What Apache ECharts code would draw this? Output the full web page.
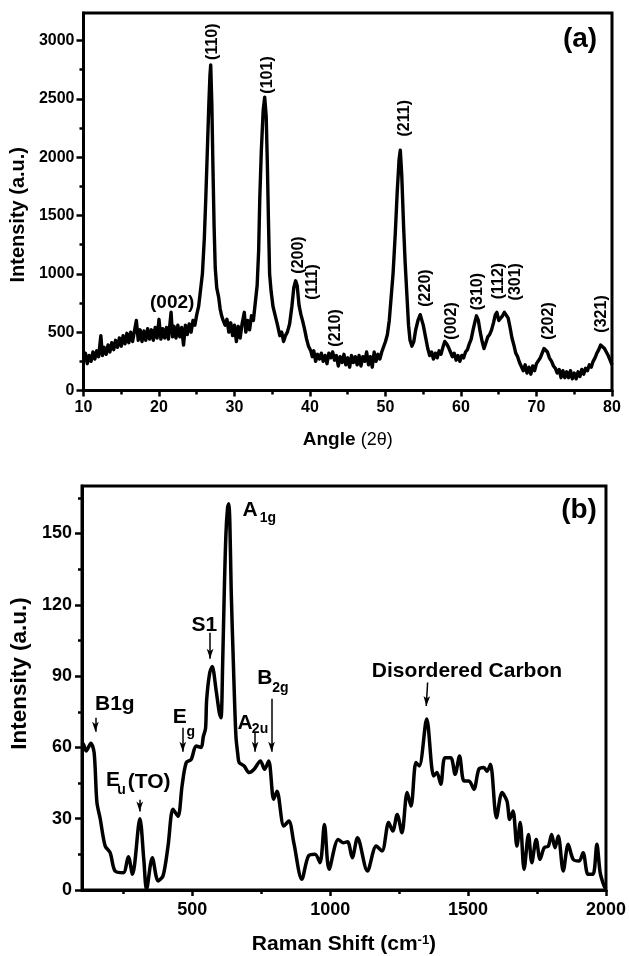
<!DOCTYPE html>
<html>
<head>
<meta charset="utf-8">
<script src="https://cdn.jsdelivr.net/npm/echarts@6/dist/echarts.min.js"></script>
<style>
  html, body { margin: 0; padding: 0; background: #fff; }
  #chart { width: 629px; height: 956px; }
</style>
</head>
<body>
<div id="chart"></div>
<script>
const FONT = '"Liberation Sans", Arial, Helvetica, sans-serif';

// ---------- (a) X-ray diffraction scan: [2θ (deg), intensity (a.u.)] ----------
const xrdScan = [
  [10.0,250],[10.25,320],[10.5,230],[10.75,300],[11.0,250],[11.25,330],[11.5,270],[11.75,340],[12.0,290],[12.3,470],
  [12.5,300],[12.75,370],[13.0,310],[13.25,390],[13.5,330],[13.75,410],[14.0,350],[14.25,430],[14.5,370],[14.75,450],
  [15.0,380],[15.25,470],[15.5,400],[15.75,490],[16.0,410],[16.25,500],[16.5,420],[16.75,510],[17.0,600],[17.25,430],
  [17.5,520],[17.75,420],[18.0,510],[18.25,430],[18.5,530],[18.75,440],[19.0,520],[19.25,430],[19.5,540],[19.75,450],
  [20.0,610],[20.25,440],[20.5,530],[20.75,450],[21.0,540],[21.25,440],[21.6,670],[21.8,460],[22.0,550],[22.25,450],
  [22.5,560],[22.75,460],[23.0,540],[23.25,390],[23.5,560],[23.75,480],[24.0,570],[24.25,500],[24.5,600],[24.75,560],
  [25.0,650],[25.25,720],[25.5,860],[25.75,1000],[26.0,1300],[26.2,1650],[26.4,2050],[26.6,2450],[26.75,2700],[26.85,2790],
  [27.0,2450],[27.15,1900],[27.3,1400],[27.45,1050],[27.65,880],[27.9,800],[28.1,700],[28.3,640],[28.5,600],[28.75,560],
  [29.0,610],[29.25,500],[29.5,580],[29.75,470],[30.0,560],[30.25,420],[30.5,550],[30.75,450],[31.0,570],[31.3,670],
  [31.5,500],[31.75,600],[32.0,520],[32.25,640],[32.5,600],[32.75,750],[33.0,900],[33.2,1200],[33.35,1650],[33.55,2050],
  [33.8,2400],[34.0,2513],[34.2,2350],[34.35,1950],[34.5,1450],[34.65,1000],[34.85,850],[35.1,720],[35.4,640],[35.7,560],
  [36.0,470],[36.25,500],[36.5,420],[36.75,470],[37.0,500],[37.3,570],[37.6,720],[37.85,880],[38.1,940],[38.3,900],
  [38.55,730],[38.8,650],[39.05,590],[39.3,520],[39.55,440],[39.8,380],[40.1,340],[40.3,290],[40.5,340],[40.75,250],
  [41.0,310],[41.25,270],[41.5,320],[41.75,250],[42.0,300],[42.25,230],[42.5,320],[42.75,280],[43.0,330],[43.25,260],
  [43.5,300],[43.75,210],[44.0,290],[44.25,240],[44.5,310],[44.75,220],[45.0,280],[45.25,200],[45.5,300],[45.75,240],
  [46.0,290],[46.25,220],[46.5,300],[46.75,210],[47.0,290],[47.25,250],[47.5,330],[47.75,220],[48.0,290],[48.25,200],
  [48.5,330],[48.75,250],[49.0,310],[49.25,270],[49.5,330],[49.75,320],[50.0,420],[50.25,480],[50.5,600],[50.75,800],
  [51.0,1000],[51.3,1350],[51.55,1700],[51.8,1980],[51.96,2060],[52.15,1850],[52.4,1400],[52.6,1100],[52.85,800],[53.05,560],
  [53.25,430],[53.5,380],[53.75,420],[54.0,520],[54.3,600],[54.6,650],[54.8,640],[55.0,560],[55.3,460],[55.6,360],
  [55.85,300],[56.1,330],[56.35,270],[56.6,320],[56.85,280],[57.1,340],[57.35,310],[57.6,370],[57.85,420],[58.1,400],
  [58.35,370],[58.6,330],[58.85,290],[59.1,320],[59.35,260],[59.6,300],[59.85,250],[60.1,300],[60.35,280],[60.6,330],
  [60.85,350],[61.1,400],[61.35,440],[61.6,520],[61.85,590],[62.05,640],[62.3,600],[62.55,500],[62.8,420],[63.05,360],
  [63.3,410],[63.55,460],[63.8,480],[64.05,520],[64.3,580],[64.55,650],[64.75,670],[65.0,600],[65.25,590],[65.5,640],
  [65.75,670],[66.0,680],[66.25,620],[66.5,540],[66.75,450],[67.0,390],[67.25,320],[67.5,290],[67.75,240],[68.0,230],
  [68.25,170],[68.5,220],[68.75,150],[69.0,200],[69.25,140],[69.5,210],[69.75,170],[70.0,230],[70.25,220],[70.5,280],
  [70.75,320],[71.0,360],[71.2,370],[71.45,330],[71.7,280],[72.0,250],[72.25,210],[72.5,190],[72.75,150],[73.0,180],
  [73.25,110],[73.5,170],[73.75,110],[74.0,160],[74.25,110],[74.5,170],[74.75,100],[75.0,150],[75.25,100],[75.5,160],
  [75.75,120],[76.0,180],[76.25,140],[76.5,190],[76.75,170],[77.0,220],[77.25,200],[77.5,250],[77.75,280],[78.0,320],
  [78.25,350],[78.5,390],[78.75,400],[79.0,360],[79.25,330],[79.5,300],[79.75,260],[80.0,220]
];
const xrdAngleTicks = [10, 20, 30, 40, 50, 60, 70, 80];
const xrdAngleMinor = [15, 25, 35, 45, 55, 65, 75];
const xrdIntensityTicks = [0, 500, 1000, 1500, 2000, 2500, 3000];
const xrdIntensityMinor = [250, 750, 1250, 1750, 2250, 2750];
// Miller indices written vertically next to their reflections: [label, 2θ, intensity]
const xrdPlanes = [
  ['(110)', 27.13, 2989], ['(101)', 34.39, 2704], ['(211)', 52.49, 2333],
  ['(200)', 38.46, 1161], ['(111)', 40.38, 930], ['(210)', 43.35, 536],
  ['(220)', 55.30, 878], ['(002)', 58.80, 596], ['(310)', 62.17, 847],
  ['(112)', 65.01, 938], ['(301)', 67.25, 932], ['(202)', 71.61, 596],
  ['(321)', 78.61, 656]
];
const xrdCarbonPlane = ['(002)', 21.75, 754];
const xrdPanelTag = ['(a)', 73.5, 3012];

// ---------- (b) Raman spectrum: [shift (cm-1), intensity (a.u.)] ----------
const ramanSpectrum = [
  [100,61],[104,61.5],[115,58.5],[132,61.7],[144,57.8],[154,37],[166,30],[184,18.5],[202,15.7],[220,8],
  [250,7.3],[268,14],[283,6.6],[310,30],[324,13],[334,0.3],[355,13.6],[376,3.8],[394,6],[412,18.5],
  [430,34],[448,31],[463,44],[478,53.6],[496,55],[514,60.6],[532,60],[540,64.6],[548,68],[552,80],
  [563,91.3],[572,94],[586,84.3],[598,74.5],[604,72.5],[610,95],[616,126],[622,150],[628,161],[632,162.5],
  [636,155],[641,126],[649,95],[658,65],[665,57],[670,53.6],[688,52.2],[706,49.4],[724,50.8],[747,54.3],
  [762,50.8],[777,54.3],[795,38.2],[807,41.6],[832,26.9],[850,29],[868,19.9],[897,4.5],[921,14.3],[945,15],
  [963,11.5],[979,27.6],[996,8.7],[1029,21.3],[1047,19.9],[1063,20.3],[1080,13.6],[1099,22],[1135,8],[1167,18.5],
  [1188,16.4],[1212,28.4],[1227,24.8],[1243,31.8],[1260,24.1],[1279,41],[1293,35.3],[1311,53.6],[1323,52.2],[1350,72],
  [1375,48],[1387,49.4],[1401,44.5],[1416,55.7],[1437,55.7],[1453,48.7],[1469,56.4],[1485,45.9],[1503,45.9],[1521,42.4],
  [1539,50.8],[1557,51.5],[1569,50],[1581,52.9],[1603,30.4],[1623,41],[1641,37.4],[1651,29.7],[1663,33.2],[1677,18.5],
  [1689,28.4],[1703,8.7],[1719,23.4],[1731,11.5],[1747,21.3],[1761,12.9],[1776,17.8],[1791,18.5],[1803,23.4],[1815,17.8],
  [1827,22.7],[1845,8],[1863,19.2],[1881,12.9],[1903,12.2],[1917,15.7],[1935,6.6],[1953,6.6],[1967,19.2],[1979,7.3],
  [1993,1.7],[2000,0.5]
];
const ramanShiftTicks = [500, 1000, 1500, 2000];
const ramanShiftMinor = [250, 750, 1250, 1750];
const ramanIntensityTicks = [0, 30, 60, 90, 120, 150];
const ramanIntensityMinor = [15, 45, 75, 105, 135, 165];
// Band markers: [tail, head] in (shift, intensity)
const ramanArrows = [
  [[148.7, 72.5], [148.7, 66.6]],
  [[465.5, 68.3], [465.5, 58.2]],
  [[564.4, 108.2], [564.4, 97.3]],
  [[727.8, 66.2], [727.8, 58.2]],
  [[787.4, 80.5], [787.4, 58.2]],
  [[309.3, 38.0], [309.3, 33.0]],
  [[1353.2, 87.3], [1348.4, 77.4]]
];
// Band names, split into base and subscript parts: [text, shift, intensity, part]
const ramanModes = [
  ['B1g', 147, 78.0, 'base'],
  ['S1', 497.3, 111.4, 'base'],
  ['Disordered Carbon', 1151.1, 92.2, 'base'],
  ['E', 428.7, 72.8, 'base'], ['g', 479.3, 66.6, 'sub'],
  ['E', 186.7, 46.2, 'base'], ['u', 228.2, 42.2, 'sub'], ['(TO)', 266.2, 45.4, 'base'],
  ['A', 681.6, 159.7, 'base'], ['1g', 744.8, 156.3, 'sub'],
  ['A', 663.5, 70.2, 'base'], ['2u', 715.9, 67.5, 'sub'],
  ['B', 735.8, 89.1, 'base'], ['2g', 790.0, 85.1, 'sub']
];
const ramanPanelTag = ['(b)', 1837.5, 159.9];

// ---------- axes ----------
const AXIS_COLOR = '#000';
const plain = v => String(v);
function mainXAxis(gridIndex, min, max, ticks, name, nameGap, fontSize, nameStyle, labelMargin) {
  return {
    gridIndex, type: 'value', position: 'bottom', min, max,
    axisLine: { onZero: false, lineStyle: { color: AXIS_COLOR, width: 3 } },
    axisTick: { customValues: ticks, length: 6, lineStyle: { color: AXIS_COLOR, width: 2.5 } },
    axisLabel: { customValues: ticks, formatter: plain, color: '#000', fontWeight: 'bold', fontFamily: FONT, fontSize, margin: labelMargin },
    splitLine: { show: false },
    name, nameLocation: 'middle', nameGap, nameTextStyle: nameStyle
  };
}
function minorXAxis(gridIndex, min, max, ticks) {
  return {
    gridIndex, type: 'value', position: 'bottom', min, max,
    axisLine: { show: false, onZero: false },
    axisTick: { customValues: ticks, length: 4, lineStyle: { color: AXIS_COLOR, width: 2.5 } },
    axisLabel: { show: false }, splitLine: { show: false }
  };
}
function mainYAxis(gridIndex, min, max, ticks, name, nameGap, fontSize, nameStyle, labelMargin) {
  return {
    gridIndex, type: 'value', position: 'left', min, max,
    axisLine: { onZero: false, lineStyle: { color: AXIS_COLOR, width: 3 } },
    axisTick: { customValues: ticks, length: 7, lineStyle: { color: AXIS_COLOR, width: 2.5 } },
    axisLabel: { customValues: ticks, formatter: plain, color: '#000', fontWeight: 'bold', fontFamily: FONT, fontSize, margin: labelMargin },
    splitLine: { show: false },
    name, nameLocation: 'middle', nameGap, nameTextStyle: nameStyle
  };
}
function minorYAxis(gridIndex, min, max, ticks) {
  return {
    gridIndex, type: 'value', position: 'left', min, max,
    axisLine: { show: false, onZero: false },
    axisTick: { customValues: ticks, length: 4, lineStyle: { color: AXIS_COLOR, width: 2.5 } },
    axisLabel: { show: false }, splitLine: { show: false }
  };
}

const titleStyle = size => ({ color: '#000', fontWeight: 'bold', fontFamily: FONT, fontSize: size });

const option = {
  animation: false,
  backgroundColor: '#fff',
  textStyle: { fontFamily: FONT },
  grid: [
    { left: 82, top: 13, width: 530, height: 377.5, show: true, borderColor: '#000', borderWidth: 3, backgroundColor: 'transparent' },
    { left: 82, top: 486, width: 526, height: 404.5, show: true, borderColor: '#000', borderWidth: 3, backgroundColor: 'transparent' }
  ],
  xAxis: [
    mainXAxis(0, 10, 80, xrdAngleTicks, 'Angle {t|(2θ)}', 40, 16,
      Object.assign(titleStyle(19), { rich: { t: { fontSize: 18, fontWeight: 'normal', fontFamily: FONT, color: '#000' } } }), 9),
    minorXAxis(0, 10, 80, xrdAngleMinor),
    mainXAxis(1, 100, 2000, ramanShiftTicks, 'Raman Shift (cm{s|-1})', 44, 18,
      Object.assign(titleStyle(21), { rich: { s: { fontSize: 13, fontWeight: 'bold', fontFamily: FONT, color: '#000', verticalAlign: 'top' } } }), 11),
    minorXAxis(1, 100, 2000, ramanShiftMinor)
  ],
  yAxis: [
    mainYAxis(0, 0, 3235, xrdIntensityTicks, 'Intensity (a.u.)', 49, 16,
      Object.assign(titleStyle(20), { padding: [0, 26, 0, 0] }), 9),
    minorYAxis(0, 0, 3235, xrdIntensityMinor),
    mainYAxis(1, 0, 170, ramanIntensityTicks, 'Intensity (a.u.)', 50, 18,
      Object.assign(titleStyle(22.5), { padding: [0, 0, 0, 29] }), 10),
    minorYAxis(1, 0, 170, ramanIntensityMinor)
  ],
  series: [
    {
      name: 'XRD', type: 'line', xAxisIndex: 0, yAxisIndex: 0, data: xrdScan,
      showSymbol: false, silent: true,
      lineStyle: { color: '#000', width: 3.4, join: 'round' }
    },
    {
      name: 'Raman', type: 'line', xAxisIndex: 2, yAxisIndex: 2, data: ramanSpectrum,
      showSymbol: false, silent: true, smooth: 0.3,
      lineStyle: { color: '#000', width: 3.5, join: 'round' },
      markLine: {
        silent: true, animation: false,
        symbol: ['none', 'arrow'],
        label: { show: false },
        lineStyle: { color: '#000', width: 1.5, type: 'solid' },
        emphasis: { disabled: true },
        data: ramanArrows.map(([tail, head]) => [
          { coord: tail, symbol: 'none' },
          { coord: head, symbol: 'arrow', symbolSize: [5, 10] }
        ])
      }
    }
  ]
};

const chart = echarts.init(document.getElementById('chart'), null, { renderer: 'canvas' });
chart.setOption(option);

// ---------- text annotations placed in data space ----------
const TOP = { xAxisIndex: 0, yAxisIndex: 0 };
const BOTTOM = { xAxisIndex: 2, yAxisIndex: 2 };
const font = (size, weight) => `${weight || 'bold'} ${size}px ${FONT}`;
const graphics = [];

function addText(finder, x, y, text, size, opts) {
  const p = chart.convertToPixel(finder, [x, y]);
  const o = opts || {};
  graphics.push({
    type: 'text', x: p[0], y: p[1], rotation: o.rotation || 0, silent: true, z: 10,
    style: { text, font: font(size, o.weight), fill: '#000', align: o.align || 'center', verticalAlign: 'middle' }
  });
}

xrdPlanes.forEach(([t, a, i]) => addText(TOP, a, i, t, 16, { rotation: Math.PI / 2 }));
addText(TOP, xrdCarbonPlane[1], xrdCarbonPlane[2], xrdCarbonPlane[0], 19);
addText(TOP, xrdPanelTag[1], xrdPanelTag[2], xrdPanelTag[0], 28, { align: 'left' });

ramanModes.forEach(([t, s, i, part]) =>
  addText(BOTTOM, s, i, t, part === 'sub' ? 14 : 21, { align: 'left' }));
addText(BOTTOM, ramanPanelTag[1], ramanPanelTag[2], ramanPanelTag[0], 28, { align: 'left' });

chart.setOption({ graphic: graphics });
</script>
</body>
</html>
